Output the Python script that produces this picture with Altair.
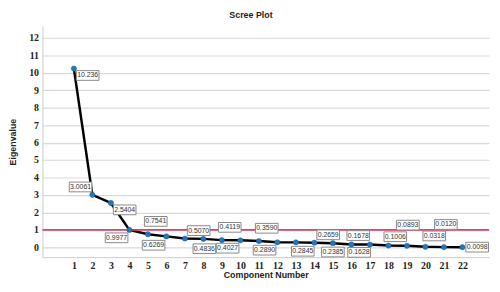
import altair as alt
import pandas as pd

components = list(range(1, 23))
eigenvalues = [10.236, 3.0061, 2.5404, 0.9977, 0.7541, 0.6269, 0.5070, 0.4836,
               0.4119, 0.4027, 0.3590, 0.2890, 0.2845, 0.2659, 0.2385, 0.1678,
               0.1628, 0.1006, 0.0893, 0.0318, 0.0120, 0.0098]
labels = ["10.236", "3.0061", "2.5404", "0.9977", "0.7541", "0.6269", "0.5070",
          "0.4836", "0.4119", "0.4027", "0.3590", "0.2890", "0.2845", "0.2659",
          "0.2385", "0.1678", "0.1628", "0.1006", "0.0893", "0.0318", "0.0120",
          "0.0098"]
# label placement offsets (pixels) relative to each point
label_dx = [14, -12, 14, -13, 8, -13, 14, 1, 8, -13, 8, -13, 7, 14, 0, 7, -11, 7, 1, 9, 2, 15]
label_dy = [7, -8, 7, 8, -13, 9, -8, 10, -13, 8, -13, 8, 9, -8, 9, -9, 8, -9, -21, -11, -23, 0]
x_ticks = list(range(1, 23))
y_ticks = list(range(0, 13))
cutoff = [1]

W, H = 454, 235
XD = [-0.7, 23.44]
YD = [-0.563, 12.676]
px_x = W / (XD[1] - XD[0])
px_y = H / (YD[1] - YD[0])

df = pd.DataFrame({"comp": components, "eig": eigenvalues, "lab": labels,
                   "dx": label_dx, "dy": label_dy})
ref = pd.DataFrame({"y": cutoff})

xs = alt.Scale(domain=XD, nice=False, zero=False)
ys = alt.Scale(domain=YD, nice=False, zero=False)

x_axis = alt.Axis(values=x_ticks, title="Component Number", grid=False,
                  ticks=False, domainColor="#cccccc", labelFont="Liberation Serif",
                  labelFontSize=10, labelColor="#222222", labelPadding=4,
                  labelFontWeight="bold", labelOverlap=False,
                  titleFont="Liberation Sans", titleFontSize=9, titleFontWeight="bold",
                  titleColor="#222222", titlePadding=0)
y_axis = alt.Axis(values=y_ticks, title="Eigenvalue", grid=True, gridColor="#d9d9d9",
                  gridWidth=1.2,
                  ticks=False, domainColor="#cccccc", labelFont="Liberation Serif",
                  labelFontSize=10, labelColor="#222222", labelPadding=4,
                  labelFontWeight="bold", labelOverlap=False,
                  titleFont="Liberation Sans", titleFontSize=9, titleFontWeight="bold",
                  titleColor="#222222", titlePadding=11)


def X(f):
    return alt.X(f, scale=xs, axis=x_axis, title="Component Number")


def Y(f):
    return alt.Y(f, scale=ys, axis=y_axis, title="Eigenvalue")


base = alt.Chart(df)

line = base.mark_line(color="black", strokeWidth=2.5).encode(x=X("comp:Q"), y=Y("eig:Q"))

rule = alt.Chart(ref).mark_rule(color="#e0406a", strokeWidth=2).encode(y=Y("y:Q"))

pts = base.mark_point(filled=True, color="#1f78c0", size=28, opacity=1,
                      stroke="#1a5a90", strokeWidth=0.5).encode(
    x=X("comp:Q"), y=Y("eig:Q"))

lab_base = base.transform_calculate(
    lx=f"datum.comp + datum.dx / {px_x}",
    ly=f"datum.eig - datum.dy / {px_y}",
)

boxes = lab_base.mark_point(shape="M-1,-0.43H1V0.43H-1Z", size=529, filled=True,
                            fill="white", stroke="#888888", strokeWidth=1, opacity=1).encode(
    x=X("lx:Q"), y=Y("ly:Q"))

texts = lab_base.mark_text(font="Liberation Sans", fontSize=7, color="#333333",
                           align="center", baseline="middle").encode(
    x=X("lx:Q"), y=Y("ly:Q"), text="lab:N")

chart = alt.layer(line, rule, pts, boxes, texts).properties(
    width=W, height=H,
    title=alt.TitleParams("Scree Plot", font="Liberation Sans", fontSize=9,
                          fontWeight="bold", color="#222222", anchor="middle", dx=-15, offset=6),
    padding={"left": 35, "top": 16, "right": 3, "bottom": 25},
    autosize=alt.AutoSizeParams(type="none"),
).configure_view(stroke=None)

chart.save("out.html", embed_options={"renderer": "svg", "actions": False})
